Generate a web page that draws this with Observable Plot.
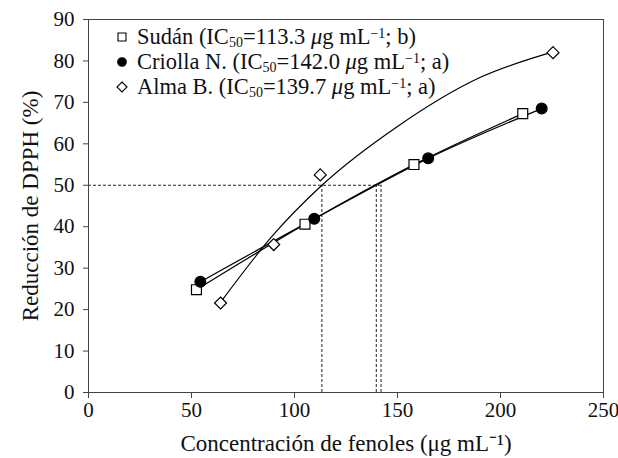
<!DOCTYPE html>
<html><head><meta charset="utf-8">
<script src="https://cdn.jsdelivr.net/npm/d3@7"></script>
<script src="https://cdn.jsdelivr.net/npm/@observablehq/plot@0.6"></script>
<style>
html,body{margin:0;padding:0;background:#fff;}
#wrap{position:relative;width:618px;height:458px;font-family:"Liberation Serif",serif;}
#legend{position:absolute;left:112px;top:24px;font-size:22.5px;line-height:25px;color:#111;}
.row{display:flex;align-items:center;height:25px;white-space:nowrap}
.row svg{width:20px;height:20px;margin-right:5px;flex:none}
sub,sup{font-size:14px;line-height:0}
sub{vertical-align:-3px}
sup{vertical-align:6px}
</style></head><body><div id="wrap"><div id="chart"></div><div id="legend"></div></div>
<script>
// Series metadata
const series = ["Sudán", "Criolla N.", "Alma B."];
const ic50 = [113.3, 142.0, 139.7];
const ic50Text = ["113.3", "142.0", "139.7"];
const letters = ["b", "a", "a"];
const symbols = ["square", "circle", "diamond2"];
const fills = ["white", "black", "white"];

// Measured points
const sudanX = [52.4, 105.1, 158.0, 210.8];
const sudanY = [24.8, 40.6, 55.0, 67.3];
const criollaX = [54.3, 109.6, 164.9, 220.0];
const criollaY = [26.7, 41.9, 56.5, 68.5];
const almaX = [64.1, 89.9, 112.5, 225.5];
const almaY = [21.6, 35.7, 52.5, 82.0];

// Fitted trend curve for Alma B.
const almaTrendX = [64, 90, 113.3, 150, 190, 225.5];
const almaTrendY = [21.7, 38.2, 50, 64.2, 76.0, 82.2];

// Axes
const xTicks = [0, 50, 100, 150, 200, 250];
const yTicks = [0, 10, 20, 30, 40, 50, 60, 70, 80, 90];
const xLabel = "Concentración de fenoles (μg mL⁻¹)";
const yLabel = "Reducción de DPPH (%)";
const halfLevel = 50;

const toRows = (name, xs, ys) => xs.map((x, i) => ({series: name, x, y: ys[i]}));
const pts = [
  toRows(series[0], sudanX, sudanY),
  toRows(series[1], criollaX, criollaY),
  toRows(series[2], almaX, almaY)
];
const trends = [
  toRows(series[0], sudanX, sudanY),
  toRows(series[1], criollaX, criollaY),
  toRows(series[2], almaTrendX, almaTrendY)
];

const dotR = {square: 5.6, circle: 5.4, diamond2: 5.4};

const chart = Plot.plot({
  width: 618, height: 458,
  marginLeft: 88, marginRight: 15, marginTop: 19, marginBottom: 66,
  style: {fontFamily: '"Liberation Serif", serif', fontSize: "21px", color: "#111", background: "white"},
  x: {domain: [xTicks[0], xTicks[xTicks.length - 1]]},
  y: {domain: [yTicks[0], yTicks[yTicks.length - 1]]},
  marks: [
    Plot.ruleY([halfLevel], {x1: xTicks[0], x2: d3.max(ic50), stroke: "#222", strokeWidth: 1, strokeDasharray: "3,2"}),
    Plot.ruleX(ic50, {y1: yTicks[0], y2: halfLevel, stroke: "#222", strokeWidth: 1, strokeDasharray: "3,2"}),
    ...trends.map(t => Plot.line(t, {x: "x", y: "y", curve: "monotone-x", stroke: "black", strokeWidth: 1.2})),
    ...pts.map((p, i) => Plot.dot(p, {x: "x", y: "y", symbol: symbols[i], r: dotR[symbols[i]], fill: fills[i], stroke: "black", strokeWidth: 1.2})),
    Plot.frame({stroke: "#444"}),
    Plot.axisX({ticks: xTicks, tickSize: 6, tickPadding: 4, stroke: "#444", label: null}),
    Plot.axisY({ticks: yTicks, tickSize: 5, tickPadding: 9, stroke: "#444", label: null}),
    Plot.axisX({ticks: [], tickSize: 0, label: xLabel, labelAnchor: "center", labelOffset: 58, labelArrow: false, fontSize: "23px"}),
    Plot.axisY({ticks: [], tickSize: 0, label: yLabel, labelAnchor: "center", labelOffset: 67, labelArrow: false, fontSize: "23px"})
  ]
});
document.getElementById("chart").appendChild(chart);

// Legend
const symMap = {square: d3.symbolSquare, circle: d3.symbolCircle, diamond2: d3.symbolDiamond2};
const symSize = {square: 64, circle: 58, diamond2: 64};
const legend = document.getElementById("legend");
series.forEach((s, i) => {
  const row = document.createElement("div");
  row.className = "row";
  const path = d3.symbol(symMap[symbols[i]], symSize[symbols[i]])();
  row.innerHTML = `<svg viewBox="-10 -10 20 20"><path d="${path}" fill="${fills[i]}" stroke="black" stroke-width="1.1"/></svg>` +
    `<span>${s} (IC<sub>50</sub>=${ic50Text[i]} <i>μ</i>g mL<sup>−1</sup>; ${letters[i]})</span>`;
  legend.appendChild(row);
});
</script></body></html>
